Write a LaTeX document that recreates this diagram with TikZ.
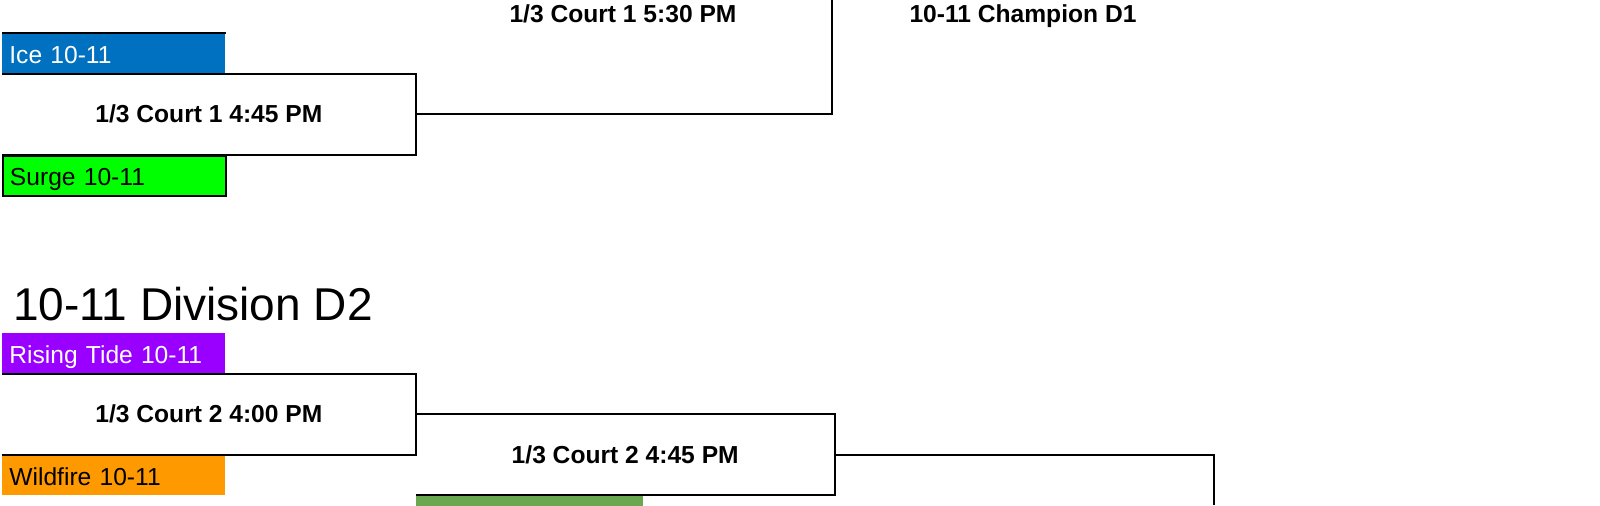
\documentclass[tikz,border=0pt]{standalone}
\usepackage{fontspec}
\setmainfont{Liberation Sans}
\definecolor{iceblue}{HTML}{0070C0}
\definecolor{surgegreen}{HTML}{00FF00}
\definecolor{tidepurple}{HTML}{9900FF}
\definecolor{fireorange}{HTML}{FF9900}
\definecolor{nextgreen}{HTML}{6AA84F}
\begin{document}
\begin{tikzpicture}[x=0.5pt,y=-0.5pt,
        team/.style={rectangle,anchor=north west,inner xsep=3.5pt,inner ysep=0pt,
            minimum height=20pt,text width=104.5pt,align=left,
            text height=11pt,text depth=1pt,
            font=\fontsize{12.3}{14}\selectfont},
        game/.style={rectangle,anchor=north west,inner sep=0pt,minimum height=40pt,
            font=\bfseries\fontsize{12.3}{14}\selectfont},
        line/.style={line width=1pt,black}]
        \useasboundingbox (0,0) rectangle (1600,505);

        % division D1
        \node[team,fill=iceblue,text=white] (ice) at (2,33) {Ice 10-11};
        \node[game,minimum width=206.5pt] (m1) at (ice.south west) {1/3 Court 1 4:45 PM};
        \node[team,fill=surgegreen,draw,line width=1pt] (surge) at (m1.south west) {Surge 10-11};
        \node[font=\bfseries\fontsize{12.3}{14}\selectfont] (m2) at (623,14) {1/3 Court 1 5:30 PM};
        \node[font=\bfseries\fontsize{12.3}{14}\selectfont] (champ1) at (1023,16) {10-11 Champion D1};
        \coordinate (w1) at (832,0);

        \draw[line] (ice.north west) -- (ice.north east);
        \draw[line] (m1.north west) -- (m1.north east) -- (m1.south east) -- (m1.south west);
        \draw[line] (m1.east) -| (w1);

        % division D2
        \node[anchor=base west,font=\fontsize{23}{27}\selectfont] (title2) at (6,320) {10-11 Division D2};
        \node[team,fill=tidepurple,text=white] (tide) at (2,333) {Rising Tide 10-11};
        \node[game,minimum width=206.5pt] (m3) at (tide.south west) {1/3 Court 2 4:00 PM};
        \node[team,fill=fireorange] (fire) at (m3.south west) {Wildfire 10-11};
        \node[game,minimum width=209pt] (m4) at (m3.east) {1/3 Court 2 4:45 PM};
        \node[team,fill=nextgreen,text width=106.5pt] (g1) at (m4.south west) {};
        \coordinate (w2) at (1214,505);

        \draw[line] (m3.north west) -- (m3.north east) -- (m3.south east) -- (m3.south west);
        \draw[line] (m4.north west) -- (m4.north east) -- (m4.south east) -- (m4.south west);
        \draw[line] (g1.north west) -- (g1.north east);
        \draw[line] (m4.east) -| (w2);

    \end{tikzpicture}
\end{document}
